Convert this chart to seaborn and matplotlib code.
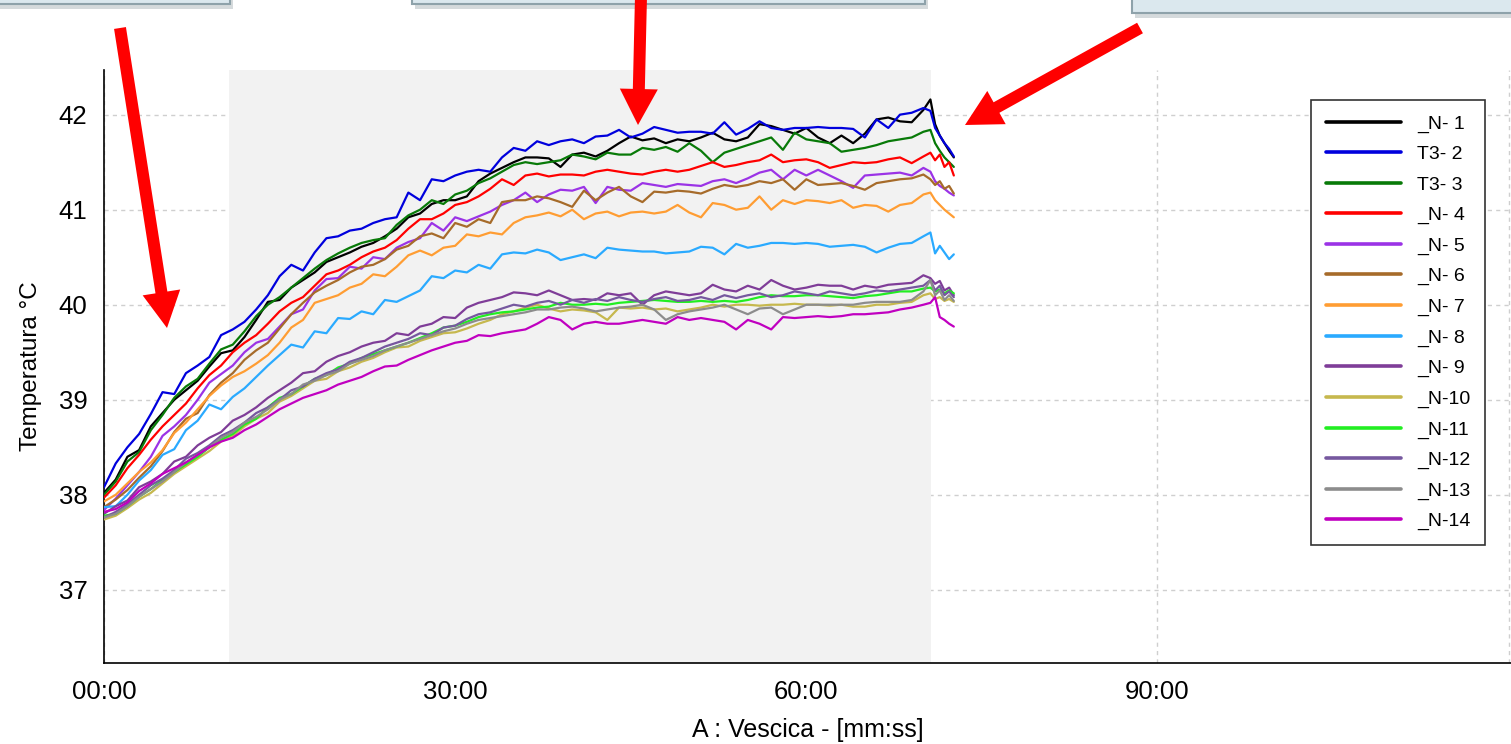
import matplotlib
matplotlib.use("Agg")
import matplotlib.pyplot as plt
import seaborn as sns
from matplotlib.patches import FancyArrow, Rectangle
from matplotlib.transforms import IdentityTransform
from matplotlib.ticker import FixedLocator, MultipleLocator, FuncFormatter

# sampling times in minutes (one reading per minute, denser at the end)
minutes = list(range(71)) + [70.6, 71.0, 71.4, 71.8, 72.2, 72.6]

n_1 = [38.02, 38.16, 38.40, 38.47, 38.72, 38.86, 39.00, 39.10, 39.20, 39.35,
       39.49, 39.52, 39.66, 39.84, 40.03, 40.05, 40.18, 40.26, 40.34, 40.45,
       40.50, 40.55, 40.61, 40.65, 40.72, 40.80, 40.92, 40.96, 41.06, 41.10,
       41.10, 41.14, 41.30, 41.38, 41.44, 41.50, 41.55, 41.55, 41.54, 41.45,
       41.58, 41.60, 41.56, 41.62, 41.70, 41.77, 41.73, 41.75, 41.70, 41.74,
       41.72, 41.76, 41.81, 41.74, 41.72, 41.76, 41.90, 41.88, 41.84, 41.80,
       41.86, 41.76, 41.70, 41.78, 41.70, 41.80, 41.95, 41.97, 41.93, 41.92,
       42.05,
       42.16, 41.90, 41.78, 41.70, 41.62, 41.55]
t3_2 = [38.08, 38.33, 38.50, 38.64, 38.85, 39.08, 39.06, 39.28, 39.36, 39.45,
        39.68, 39.74, 39.82, 39.95, 40.10, 40.30, 40.42, 40.36, 40.55, 40.70,
        40.72, 40.78, 40.80, 40.86, 40.90, 40.92, 41.18, 41.10, 41.32, 41.30,
        41.36, 41.40, 41.42, 41.40, 41.55, 41.65, 41.62, 41.72, 41.68, 41.72,
        41.74, 41.70, 41.77, 41.78, 41.84, 41.76, 41.80, 41.87, 41.84, 41.81,
        41.82, 41.82, 41.80, 41.92, 41.79, 41.85, 41.93, 41.86, 41.84, 41.86,
        41.86, 41.87, 41.86, 41.86, 41.85, 41.76, 41.95, 41.86, 42.00, 42.02,
        42.07,
        42.04, 41.86, 41.78, 41.70, 41.64, 41.56]
t3_3 = [38.00, 38.14, 38.35, 38.45, 38.68, 38.84, 39.02, 39.14, 39.22, 39.38,
        39.53, 39.58, 39.72, 39.88, 40.00, 40.08, 40.18, 40.28, 40.38, 40.47,
        40.54, 40.60, 40.65, 40.68, 40.70, 40.84, 40.94, 41.00, 41.10, 41.06,
        41.16, 41.20, 41.28, 41.33, 41.40, 41.47, 41.50, 41.48, 41.50, 41.52,
        41.58, 41.56, 41.53, 41.60, 41.58, 41.58, 41.65, 41.63, 41.66, 41.61,
        41.70, 41.62, 41.50, 41.60, 41.64, 41.68, 41.72, 41.76, 41.63, 41.81,
        41.74, 41.72, 41.70, 41.61, 41.63, 41.65, 41.68, 41.72, 41.74, 41.76,
        41.82,
        41.84, 41.70, 41.62, 41.55, 41.50, 41.45]
n_4 = [37.97, 38.10, 38.28, 38.42, 38.58, 38.72, 38.84, 38.96, 39.12, 39.26,
       39.36, 39.50, 39.60, 39.68, 39.80, 39.93, 40.02, 40.08, 40.20, 40.32,
       40.36, 40.42, 40.50, 40.56, 40.60, 40.68, 40.80, 40.90, 40.90, 40.96,
       41.05, 41.08, 41.14, 41.22, 41.32, 41.26, 41.36, 41.38, 41.35, 41.37,
       41.37, 41.36, 41.40, 41.42, 41.40, 41.38, 41.37, 41.40, 41.42, 41.40,
       41.42, 41.46, 41.50, 41.45, 41.47, 41.50, 41.52, 41.58, 41.50, 41.52,
       41.53, 41.50, 41.44, 41.47, 41.50, 41.49, 41.50, 41.53, 41.55, 41.49,
       41.56,
       41.60, 41.52, 41.58, 41.45, 41.50, 41.36]
n_5 = [37.84, 37.96, 38.10, 38.24, 38.40, 38.62, 38.72, 38.84, 39.00, 39.18,
       39.27, 39.36, 39.50, 39.60, 39.64, 39.77, 39.90, 39.95, 40.15, 40.27,
       40.28, 40.40, 40.38, 40.50, 40.48, 40.60, 40.66, 40.70, 40.86, 40.78,
       40.92, 40.88, 40.93, 40.98, 41.05, 41.10, 41.18, 41.08, 41.16, 41.21,
       41.20, 41.24, 41.07, 41.24, 41.21, 41.20, 41.28, 41.26, 41.24, 41.27,
       41.26, 41.25, 41.30, 41.32, 41.28, 41.33, 41.39, 41.42, 41.32, 41.42,
       41.36, 41.42, 41.36, 41.30, 41.23, 41.36, 41.37, 41.38, 41.39, 41.36,
       41.44,
       41.40, 41.30, 41.25, 41.22, 41.18, 41.15]
n_6 = [37.87, 37.95, 38.05, 38.18, 38.30, 38.46, 38.66, 38.80, 38.86, 39.05,
       39.18, 39.28, 39.42, 39.52, 39.60, 39.75, 39.90, 40.02, 40.13, 40.20,
       40.26, 40.34, 40.40, 40.42, 40.48, 40.58, 40.62, 40.72, 40.75, 40.70,
       40.86, 40.82, 40.90, 40.86, 41.08, 41.10, 41.10, 41.14, 41.12, 41.08,
       41.03, 41.20, 41.10, 41.18, 41.24, 41.14, 41.08, 41.19, 41.18, 41.20,
       41.19, 41.17, 41.22, 41.26, 41.24, 41.26, 41.30, 41.28, 41.32, 41.21,
       41.32, 41.26, 41.27, 41.28, 41.25, 41.21, 41.28, 41.30, 41.32, 41.33,
       41.37,
       41.32, 41.26, 41.30, 41.22, 41.25, 41.17]
n_7 = [37.93, 38.00, 38.12, 38.24, 38.34, 38.47, 38.65, 38.76, 38.90, 39.04,
       39.15, 39.24, 39.30, 39.38, 39.47, 39.60, 39.76, 39.84, 40.02, 40.06,
       40.10, 40.18, 40.22, 40.32, 40.30, 40.40, 40.52, 40.57, 40.52, 40.60,
       40.62, 40.74, 40.72, 40.76, 40.74, 40.86, 40.92, 40.94, 40.97, 40.93,
       41.00, 40.90, 40.96, 40.98, 40.93, 40.97, 40.98, 40.96, 40.98, 41.05,
       40.97, 40.92, 41.07, 41.05, 41.00, 41.02, 41.14, 41.00, 41.10, 41.06,
       41.10, 41.09, 41.07, 41.10, 41.02, 41.05, 41.04, 40.98, 41.05, 41.07,
       41.16,
       41.18, 41.10, 41.05, 41.00, 40.96, 40.92]
n_8 = [37.87, 37.88, 38.00, 38.15, 38.26, 38.42, 38.48, 38.68, 38.78, 38.95,
       38.90, 39.03, 39.12, 39.24, 39.36, 39.47, 39.58, 39.55, 39.72, 39.70,
       39.86, 39.85, 39.93, 39.90, 40.05, 40.03, 40.09, 40.15, 40.30, 40.28,
       40.36, 40.34, 40.42, 40.38, 40.53, 40.55, 40.54, 40.58, 40.55, 40.47,
       40.50, 40.53, 40.49, 40.60, 40.58, 40.57, 40.56, 40.56, 40.54, 40.55,
       40.56, 40.61, 40.60, 40.53, 40.64, 40.60, 40.62, 40.65, 40.65, 40.64,
       40.65, 40.64, 40.61, 40.62, 40.63, 40.61, 40.55, 40.60, 40.64, 40.65,
       40.72,
       40.76, 40.54, 40.62, 40.55, 40.48, 40.53]
n_9 = [37.80, 37.88, 37.94, 38.08, 38.14, 38.22, 38.35, 38.40, 38.52, 38.60,
       38.66, 38.78, 38.84, 38.92, 39.02, 39.10, 39.18, 39.28, 39.30, 39.40,
       39.46, 39.50, 39.56, 39.60, 39.62, 39.70, 39.68, 39.77, 39.80, 39.87,
       39.86, 39.97, 40.02, 40.05, 40.08, 40.13, 40.12, 40.10, 40.15, 40.10,
       40.05, 40.06, 40.05, 40.12, 40.10, 40.12, 40.00, 40.10, 40.14, 40.12,
       40.10, 40.12, 40.21, 40.16, 40.14, 40.20, 40.16, 40.26, 40.20, 40.16,
       40.18, 40.21, 40.20, 40.20, 40.16, 40.20, 40.18, 40.21, 40.22, 40.23,
       40.31,
       40.28, 40.22, 40.25, 40.15, 40.18, 40.10]
n_10 = [37.74, 37.78, 37.86, 37.95, 38.02, 38.12, 38.22, 38.30, 38.38, 38.46,
        38.56, 38.62, 38.72, 38.80, 38.86, 38.98, 39.04, 39.12, 39.20, 39.22,
        39.30, 39.34, 39.40, 39.44, 39.50, 39.55, 39.56, 39.62, 39.66, 39.70,
        39.71, 39.75, 39.80, 39.84, 39.90, 39.93, 39.97, 40.00, 39.96, 39.93,
        39.95, 39.94, 39.92, 39.84, 39.97, 39.96, 39.97, 39.95, 39.96, 39.93,
        39.95, 39.97, 40.00, 39.98, 40.00, 40.00, 39.99, 40.00, 40.00, 40.01,
        40.00, 40.00, 39.99, 40.00, 39.98, 39.98, 40.00, 40.00, 40.02, 40.03,
        40.10,
        40.12, 40.06, 40.08, 40.04, 40.06, 40.03]
n_11 = [37.78, 37.80, 37.88, 37.98, 38.06, 38.16, 38.24, 38.32, 38.40, 38.50,
        38.58, 38.64, 38.74, 38.80, 38.92, 39.02, 39.06, 39.14, 39.22, 39.26,
        39.34, 39.38, 39.44, 39.48, 39.52, 39.56, 39.60, 39.65, 39.70, 39.76,
        39.78, 39.82, 39.87, 39.90, 39.92, 39.93, 39.95, 39.97, 39.98, 40.02,
        40.00, 40.00, 40.01, 40.00, 40.02, 40.03, 40.04, 40.05, 40.04, 40.03,
        40.03, 40.04, 40.03, 40.04, 40.03, 40.05, 40.08, 40.10, 40.09, 40.09,
        40.10, 40.10, 40.09, 40.08, 40.07, 40.09, 40.10, 40.12, 40.14, 40.14,
        40.17,
        40.18, 40.14, 40.16, 40.12, 40.15, 40.12]
n_12 = [37.76, 37.82, 37.90, 38.00, 38.10, 38.17, 38.26, 38.38, 38.44, 38.52,
        38.62, 38.68, 38.76, 38.86, 38.92, 39.00, 39.10, 39.14, 39.22, 39.28,
        39.32, 39.40, 39.44, 39.50, 39.56, 39.60, 39.64, 39.70, 39.68, 39.76,
        39.78, 39.85, 39.90, 39.92, 39.96, 40.00, 39.98, 40.02, 40.04, 40.00,
        40.05, 40.02, 40.06, 40.04, 40.08, 40.05, 40.03, 40.06, 40.08, 40.04,
        40.05, 40.08, 40.05, 40.10, 40.07, 40.10, 40.12, 40.08, 40.10, 40.14,
        40.12, 40.10, 40.14, 40.12, 40.10, 40.12, 40.15, 40.14, 40.16, 40.18,
        40.20,
        40.26, 40.15, 40.20, 40.10, 40.14, 40.08]
n_13 = [37.76, 37.80, 37.88, 37.98, 38.06, 38.14, 38.24, 38.34, 38.42, 38.50,
        38.60, 38.66, 38.76, 38.82, 38.90, 39.00, 39.06, 39.16, 39.20, 39.26,
        39.30, 39.38, 39.42, 39.46, 39.52, 39.56, 39.60, 39.64, 39.68, 39.72,
        39.75, 39.80, 39.84, 39.86, 39.88, 39.90, 39.92, 39.95, 39.95, 39.97,
        39.98, 39.96, 39.93, 39.95, 39.97, 39.98, 40.00, 39.95, 39.84, 39.90,
        39.93, 39.95, 39.97, 40.00, 39.95, 39.90, 39.96, 39.97, 39.90, 39.95,
        40.00, 40.00, 40.00, 40.00, 40.00, 40.02, 40.03, 40.03, 40.03, 40.05,
        40.14,
        40.26, 40.10, 40.15, 40.05, 40.10, 40.04]
n_14 = [37.82, 37.85, 37.92, 38.04, 38.12, 38.22, 38.28, 38.34, 38.42, 38.50,
        38.56, 38.60, 38.68, 38.74, 38.82, 38.90, 38.96, 39.02, 39.06, 39.10,
        39.16, 39.20, 39.24, 39.30, 39.35, 39.36, 39.42, 39.47, 39.52, 39.56,
        39.60, 39.62, 39.68, 39.67, 39.70, 39.72, 39.74, 39.80, 39.87, 39.84,
        39.74, 39.80, 39.82, 39.80, 39.80, 39.82, 39.84, 39.82, 39.80, 39.87,
        39.84, 39.86, 39.84, 39.82, 39.74, 39.84, 39.80, 39.74, 39.87, 39.86,
        39.87, 39.88, 39.87, 39.88, 39.90, 39.90, 39.91, 39.92, 39.95, 39.97,
        40.00,
        40.02, 40.08, 39.87, 39.84, 39.80, 39.77]

series_names = ["_N- 1", "T3- 2", "T3- 3", "_N- 4", "_N- 5", "_N- 6", "_N- 7",
                "_N- 8", "_N- 9", "_N-10", "_N-11", "_N-12", "_N-13", "_N-14"]
series_values = [n_1, t3_2, t3_3, n_4, n_5, n_6, n_7,
                 n_8, n_9, n_10, n_11, n_12, n_13, n_14]
series_colors = ["#000000", "#0000dd", "#087a08", "#ff0000", "#9b33e6", "#a66b2a",
                 "#ff9d33", "#2aaaff", "#7f3d98", "#c6b84e", "#22ee22", "#76589f",
                 "#8c8c8c", "#c000c0"]

xtick_pos = [0, 30, 60, 90, 120]
xtick_labels = ["00:00", "30:00", "60:00", "90:00", ""]
ytick_pos = [37, 38, 39, 40, 41, 42]
active_start, active_end = 10.65, 70.65

sns.set_style("white")
plt.rcParams["font.family"] = ["Liberation Sans", "DejaVu Sans"]
plt.rcParams["text.color"] = "black"
plt.rcParams["axes.labelcolor"] = "black"

W, H = 1511, 744
fig = plt.figure(figsize=(W / 100, H / 100), dpi=100)
ax = fig.add_axes([104 / W, 1 - 663 / H, 1407 / W, 593 / H])

# light grey band marking the active phase
ax.axvspan(active_start, active_end, color="#f2f2f2", lw=0, zorder=1)

handles = []
for name, vals, col in zip(series_names, series_values, series_colors):
    sns.lineplot(x=minutes, y=vals, color=col, lw=1.6, ax=ax,
                 legend=False, errorbar=None, zorder=3)
    handles.append(ax.lines[-1])

ax.set_xlim(0, 120.2)
ax.set_ylim(36.23, 42.47)
ax.xaxis.set_major_locator(FixedLocator(xtick_pos))
ax.xaxis.set_major_formatter(FuncFormatter(lambda v, p: xtick_labels[xtick_pos.index(int(round(v)))]))
ax.xaxis.set_minor_locator(MultipleLocator(15))
ax.yaxis.set_major_locator(FixedLocator(ytick_pos))
ax.yaxis.set_minor_locator(MultipleLocator(0.2))

ax.set_axisbelow(True)
ax.grid(True, which="major", color="#cfcfcf", lw=1, ls=(0, (3, 3)))

for s in ["top", "right"]:
    ax.spines[s].set_visible(False)
for s in ["left", "bottom"]:
    ax.spines[s].set_color("black")
    ax.spines[s].set_linewidth(1.2)

ax.tick_params(axis="x", which="major", direction="in", length=13, width=1,
               color="black", labelcolor="black", labelsize=18.5, pad=12)
ax.tick_params(axis="x", which="minor", direction="in", length=6, width=1, color="black")
ax.tick_params(axis="y", which="major", direction="in", length=12, width=1.6,
               color="#555555", labelcolor="black", labelsize=18.5, pad=12)
ax.tick_params(axis="y", which="minor", direction="in", length=5, width=1, color="#222222")

ax.set_xlabel("A : Vescica - [mm:ss]", fontsize=18, labelpad=10, color="black")
ax.set_ylabel("Temperatura °C", fontsize=17.5, labelpad=12, color="black")

leg = ax.legend(handles, series_names, loc="upper right",
                bbox_to_anchor=(0.9815, 0.949), bbox_transform=ax.transAxes,
                borderaxespad=0, frameon=True, fancybox=False, edgecolor="#333333",
                framealpha=1, fontsize=14, handlelength=3.9, handletextpad=0.8,
                labelspacing=0.66, borderpad=0.75)
leg.get_frame().set_linewidth(1.2)
for ln in leg.get_lines():
    ln.set_linewidth(2.6)
for txt in leg.get_texts():
    txt.set_color("black")

# callout boxes cut off at the top of the slide
px = IdentityTransform()
for x0, w, bottom in [(-5, 235, 740), (412, 513, 740), (1132, 400, 731)]:
    fig.add_artist(Rectangle((x0 + 3, bottom - 5), w, 40, transform=px,
                             facecolor="#b9c2c6", edgecolor="none", alpha=0.6))
    fig.add_artist(Rectangle((x0, bottom), w, 40, transform=px,
                             facecolor="#dbe8ee", edgecolor="#8ea2aa", lw=1.5))

# red arrows
arrow_kw = dict(width=12, head_width=38, head_length=36, length_includes_head=True,
                color="#ff0000", transform=px, lw=0)
fig.add_artist(FancyArrow(120, 716, 47, -300, **arrow_kw))
fig.add_artist(FancyArrow(641, 748, -3, -129, **arrow_kw))
fig.add_artist(FancyArrow(1140, 716, -175, -97, **arrow_kw))

fig.savefig("out.png", dpi=100)
